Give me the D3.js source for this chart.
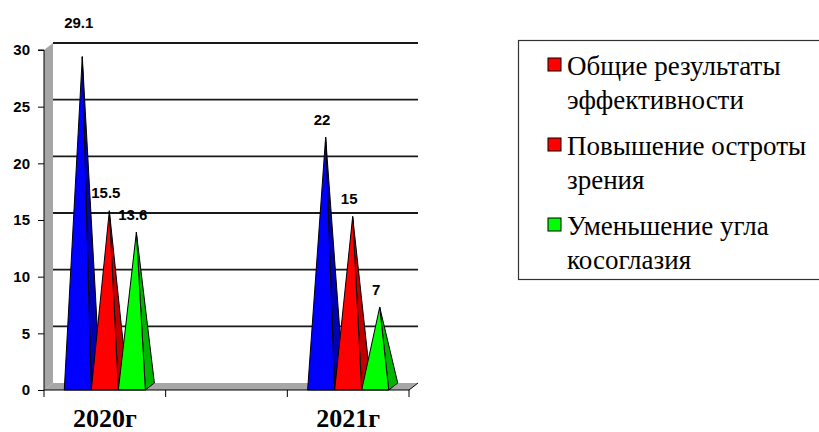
<!DOCTYPE html>
<html>
<head>
<meta charset="utf-8">
<script src="https://cdn.jsdelivr.net/npm/d3@7"></script>
<style>
    body { margin: 0; background: #fff; }
    svg { display: block; }
    .legend-text { font-family: "Liberation Serif", "DejaVu Serif", serif; font-size: 27px; }
</style>
</head>
<body>
<div id="chart"></div>
<script>
// данные
var categories = ["2020г", " ", "2021г"];
var seriesNames = [
    ["Общие результаты", "эффективности"],
    ["Повышение остроты", "зрения"],
    ["Уменьшение угла", "косоглазия"]
];
var overall = [29.1, null, 22];
var acuity = [15.5, null, 15];
var angle = [13.6, null, 7];
var yTicks = [0, 5, 10, 15, 20, 25, 30];

var series = [overall, acuity, angle];
var frontColors = ["#0000ff", "#ff0000", "#00ff00"];
var sideColors = ["#0000b4", "#c00000", "#00b400"];
var legendColors = ["#ff0000", "#ff0000", "#00ff00"];

var width = 819, height = 432;
var depthX = 9, depthY = 7;

var svg = d3.select("#chart").append("svg")
    .attr("width", width)
    .attr("height", height);

var x = d3.scaleBand()
    .domain(categories)
    .range([44, 409]);

var x1 = d3.scaleBand()
    .domain(d3.range(series.length))
    .range([0, x.bandwidth()])
    .paddingOuter(0.75);

var y = d3.scaleLinear()
    .domain([0, 30])
    .range([390, 50]);

// стенка и пол
svg.append("polygon")
    .attr("points", [[44, y(0)], [44, y(30)], [44 + depthX, y(30) - depthY], [44 + depthX, y(0) - depthY]].join(" "))
    .style("fill", "#a6a6a6");
svg.append("polygon")
    .attr("points", [[44, y(0)], [409, y(0)], [409 + depthX, y(0) - depthY], [44 + depthX, y(0) - depthY]].join(" "))
    .style("fill", "#a6a6a6");
svg.append("line")
    .attr("x1", 409).attr("y1", y(0))
    .attr("x2", 409 + depthX).attr("y2", y(0) - depthY)
    .style("stroke", "#000").style("stroke-width", 1);

// сетка
svg.append("g").selectAll("line")
    .data(yTicks.filter(function (d) { return d > 0; }))
    .enter().append("line")
    .attr("x1", 44 + depthX)
    .attr("x2", 409 + depthX)
    .attr("y1", function (d) { return y(d) - depthY; })
    .attr("y2", function (d) { return y(d) - depthY; })
    .style("stroke", "#1a1a1a")
    .style("stroke-width", 1.8);

// пирамиды
var items = [];
categories.forEach(function (c, ci) {
    series.forEach(function (s, si) {
        if (s[ci] != null) items.push({cat: c, s: si, v: s[ci]});
    });
});

var pyr = svg.append("g").selectAll("g")
    .data(items)
    .enter().append("g");

function geom(d) {
    var xl = x(d.cat) + x1(d.s);
    var xr = xl + x1.bandwidth();
    var ax = (xl + xr) / 2 + depthX / 2;
    var ay = y(d.v) - depthY / 2;
    return {xl: xl, xr: xr, ax: ax, ay: ay};
}

pyr.append("polygon")
    .attr("points", function (d) {
        var g = geom(d);
        return [[g.xr, y(0)], [g.xr + depthX, y(0) - depthY], [g.ax, g.ay]].join(" ");
    })
    .style("fill", function (d) { return sideColors[d.s]; })
    .style("stroke", "#000")
    .style("stroke-width", 1)
    .style("stroke-linejoin", "round");

pyr.append("polygon")
    .attr("points", function (d) {
        var g = geom(d);
        return [[g.xl, y(0)], [g.xr, y(0)], [g.ax, g.ay]].join(" ");
    })
    .style("fill", function (d) { return frontColors[d.s]; })
    .style("stroke", "#000")
    .style("stroke-width", 1)
    .style("stroke-linejoin", "round");

// подписи значений
svg.append("g").selectAll("text")
    .data(items)
    .enter().append("text")
    .attr("x", function (d) { var g = geom(d); return (g.xl + g.xr) / 2 + 1; })
    .attr("y", function (d) {
        var g = geom(d);
        var ly = g.ay - 12.5;
        return ly < y(30) ? 28 : ly;
    })
    .attr("text-anchor", "middle")
    .style("font-family", "'Liberation Sans', Arial, sans-serif")
    .style("font-weight", "bold")
    .style("font-size", "15px")
    .text(function (d) { return d.v; });

// ось Y
var yAxis = svg.append("g")
    .attr("transform", "translate(44,0)")
    .call(d3.axisLeft(y).tickValues(yTicks).tickSize(6).tickPadding(8));
yAxis.select(".domain").style("stroke", "#000").attr("d", "M-6," + y(30) + "H0V" + y(0));
yAxis.selectAll("text")
    .style("font-family", "'Liberation Sans', Arial, sans-serif")
    .style("font-weight", "bold")
    .style("font-size", "15px")
    .style("fill", "#000");

// ось X
var xAxis = svg.append("g")
    .attr("transform", "translate(0," + y(0) + ")")
    .call(d3.axisBottom(x).tickSize(0).tickPadding(19));
xAxis.select(".domain").style("stroke", "#000").attr("d", "M44,0H409");
xAxis.selectAll("text")
    .style("font-family", "'Liberation Serif', 'Times New Roman', serif")
    .style("font-weight", "bold")
    .style("font-size", "26px")
    .style("fill", "#000");
xAxis.selectAll(".bound")
    .data(categories.map(function (c) { return x(c); }).concat([x.range()[1]]))
    .enter().append("line")
    .attr("class", "bound")
    .attr("x1", function (d) { return d; })
    .attr("x2", function (d) { return d; })
    .attr("y1", 0).attr("y2", 7)
    .style("stroke", "#000");

// легенда
var legend = svg.append("g");
legend.append("rect")
    .attr("x", 518.5).attr("y", 40.5)
    .attr("width", 310).attr("height", 239)
    .style("fill", "#fff")
    .style("stroke", "#333")
    .style("stroke-width", 1.2);

var li = legend.selectAll(".item")
    .data(seriesNames)
    .enter().append("g")
    .attr("class", "item")
    .attr("transform", function (d, i) { return "translate(548," + (58 + i * 80) + ")"; });

li.append("rect")
    .attr("width", 13).attr("height", 13)
    .style("fill", function (d, i) { return legendColors[i]; })
    .style("stroke", "#000")
    .style("stroke-width", 1);

li.append("text")
    .attr("class", "legend-text")
    .attr("x", 19)
    .attr("y", 17)
    .selectAll("tspan")
    .data(function (d) { return d; })
    .enter().append("tspan")
    .attr("x", 19)
    .attr("dy", function (d, i) { return i === 0 ? 0 : 34; })
    .text(function (d) { return d; });
</script>
</body>
</html>
